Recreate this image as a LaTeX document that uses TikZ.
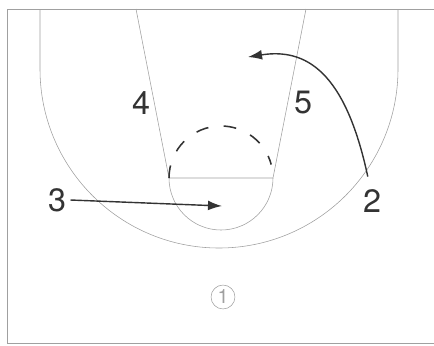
\documentclass[tikz,border=0pt]{standalone}
\usepackage{fontspec}
\setmainfont{TeX Gyre Heros}
\usetikzlibrary{arrows.meta}
\definecolor{courtgray}{HTML}{A0A0A0}
\definecolor{inkgray}{HTML}{333333}

\begin{document}
\begin{tikzpicture}[x=0.025cm,y=-0.025cm,
  court/.style={courtgray,line width=0.4pt},
  player/.style={inkgray,font=\fontsize{23}{27}\selectfont,inner sep=1pt},
  cut/.style={inkgray,line width=1pt,-{Latex[length=10pt,width=7pt]}}]
  \useasboundingbox (0,0) rectangle (434,345);
  % court
  \draw[court] (434,9) -- (7,9) -- (7,343) -- (434,343);
  \draw[court] (40,9) -- (40,69) arc[start angle=180,end angle=0,radius=179] -- (398,9);
  \draw[court] (136,9) -- (169,178) -- (273,178) -- (306,9);
  \draw[court] (169,178) arc[start angle=180,end angle=0,radius=52];
  \draw[inkgray,line width=1.1pt,dash pattern=on 9pt off 11pt] (169,178) arc[start angle=180,end angle=345,radius=52];
  % players
  \node[player] (p4) at (141,103) {4};
  \node[player] (p5) at (303,103) {5};
  \node[player] (p3) at (57,200) {3};
  \node[player] (p2) at (372,201) {2};
  \node[draw=courtgray,circle,minimum size=17pt,inner sep=0pt,text=courtgray,font=\fontsize{14}{14}\selectfont] (p1) at (223,297) {1};
  % cuts
  \coordinate (c3) at (222,206);
  \coordinate (c2) at (248,57);
  \draw[cut] ([xshift=2pt]p3.east) -- (c3);
  \draw[cut] ([xshift=-3pt,yshift=8pt]p2.north) .. controls (345,70) and (305,48) .. (c2);
\end{tikzpicture}
\end{document}
